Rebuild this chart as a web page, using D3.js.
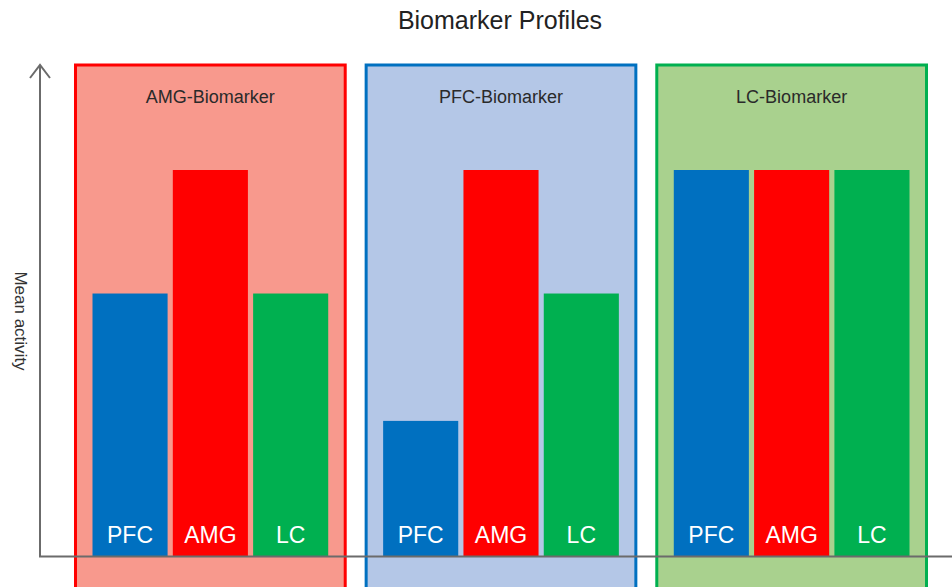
<!DOCTYPE html>
<html>
<head>
<meta charset="utf-8">
<script src="https://cdn.jsdelivr.net/npm/d3@7"></script>
<style>
  html, body { margin: 0; padding: 0; background: #fff; }
  svg { display: block; font-family: "Liberation Sans", Arial, sans-serif; }
</style>
</head>
<body>
<svg id="chart" width="952" height="587"></svg>
<script>
// ---- Data ----
const panels = ["AMG-Biomarker", "PFC-Biomarker", "LC-Biomarker"];
const regions = ["PFC", "AMG", "LC"];
const amgBiomarkerValues = [2.04, 3.0, 2.04];
const pfcBiomarkerValues = [1.05, 3.0, 2.04];
const lcBiomarkerValues = [3.0, 3.0, 3.0];
const panelValues = [amgBiomarkerValues, pfcBiomarkerValues, lcBiomarkerValues];
const yMax = 3.0;

// ---- Styles ----
const barColors = { PFC: "#0070C0", AMG: "#FF0000", LC: "#00B050" };
const panelFills = ["#F8998D", "#B4C7E7", "#A9D18E"];
const panelStrokes = ["#FF0000", "#0070C0", "#00B050"];

const svg = d3.select("#chart");
const W = 952, H = 587;
const axisX = 40, axisY = 556.5;

const xPanel = d3.scaleBand().domain(panels).range([75.5, 926.5]).paddingInner(0.072).paddingOuter(0);
const xBar = d3.scaleBand().domain(regions).range([17, xPanel.bandwidth() - 17]).paddingInner(0.065).paddingOuter(0);
const y = d3.scaleLinear().domain([0, yMax]).range([556, 170]);

// Title
svg.append("text")
  .attr("x", 500).attr("y", 29)
  .attr("text-anchor", "middle")
  .attr("font-size", 25)
  .attr("fill", "#222")
  .text("Biomarker Profiles");

// Panels
const g = svg.selectAll("g.panel")
  .data(panels.map((p, i) => ({ name: p, values: panelValues[i], i })))
  .join("g")
  .attr("class", "panel")
  .attr("transform", d => `translate(${xPanel(d.name)},0)`);

g.append("rect")
  .attr("x", 0).attr("y", 65)
  .attr("width", xPanel.bandwidth())
  .attr("height", 600)
  .attr("fill", d => panelFills[d.i])
  .attr("stroke", d => panelStrokes[d.i])
  .attr("stroke-width", 3);

g.append("text")
  .attr("x", xPanel.bandwidth() / 2)
  .attr("y", 103)
  .attr("text-anchor", "middle")
  .attr("font-size", 18)
  .attr("fill", "#2a2a2a")
  .text(d => d.name);

const bars = g.selectAll("g.bar")
  .data(d => regions.map((r, j) => ({ region: r, value: d.values[j] })))
  .join("g").attr("class", "bar");

bars.append("rect")
  .attr("x", d => xBar(d.region))
  .attr("y", d => y(d.value))
  .attr("width", xBar.bandwidth())
  .attr("height", d => y(0) - y(d.value))
  .attr("fill", d => barColors[d.region]);

bars.append("text")
  .attr("x", d => xBar(d.region) + xBar.bandwidth() / 2)
  .attr("y", 543)
  .attr("text-anchor", "middle")
  .attr("font-size", 23)
  .attr("fill", "#fff")
  .text(d => d.region);

// Axes
const axisColor = "#6b6b6b";
svg.append("line")
  .attr("x1", axisX).attr("y1", 65).attr("x2", axisX).attr("y2", axisY)
  .attr("stroke", axisColor).attr("stroke-width", 2);
svg.append("line")
  .attr("x1", axisX - 1).attr("y1", axisY).attr("x2", W).attr("y2", axisY)
  .attr("stroke", axisColor).attr("stroke-width", 2);
svg.append("path")
  .attr("d", `M${axisX - 10},${78} L${axisX},${65} L${axisX + 10},${78}`)
  .attr("fill", "none")
  .attr("stroke", axisColor).attr("stroke-width", 2);

// Y label
svg.append("text")
  .attr("transform", `translate(15,321) rotate(90)`)
  .attr("text-anchor", "middle")
  .attr("font-size", 17)
  .attr("fill", "#333")
  .text("Mean activity");
</script>
</body>
</html>
